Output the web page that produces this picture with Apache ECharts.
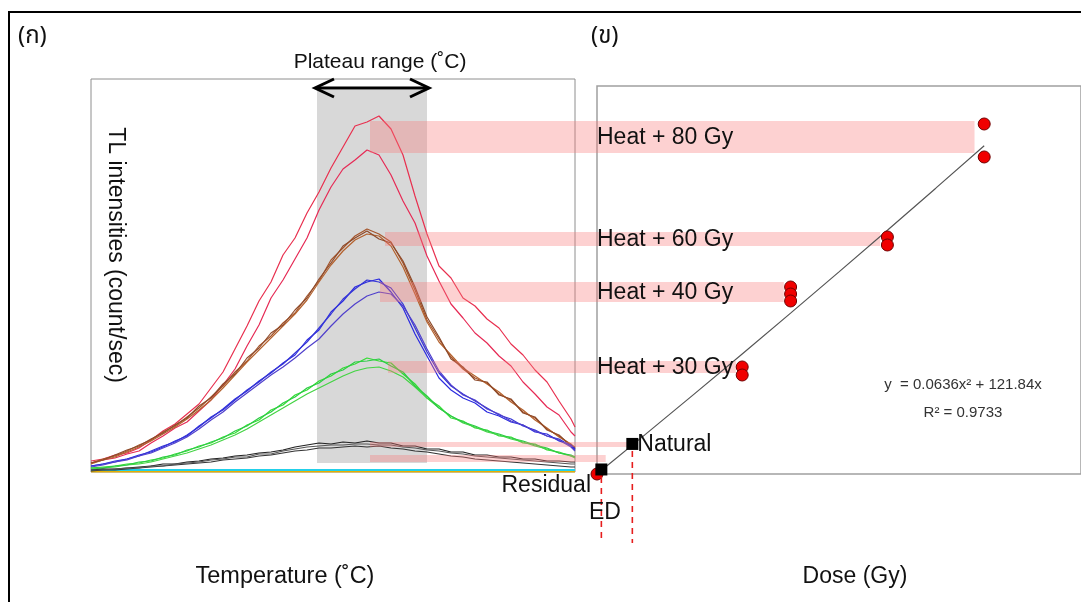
<!DOCTYPE html>
<html><head><meta charset="utf-8">
<script src="https://cdn.jsdelivr.net/npm/echarts@6/dist/echarts.min.js"></script>
<style>html,body{margin:0;padding:0;background:#fff}#c{width:1081px;height:602px}</style>
</head><body><div id="c"></div>
<script>
// ---------- Panel (ก): TL glow curves (temperature channel vs intensity) ----------
const temperature = [0,12,24,36,48,60,72,84,96,108,120,132,144,156,168,180,192,204,216,228,240,252,264,276,288,300,312,324,336,348,360,372,384,396,408,420,432,444,456,468,480,484];
const red80a  = [11,13,17,19,24,32,41,48,58,68,84,100,123,146,171,190,217,234,259,280,304,325,346,350,356,343,317,276,238,206,194,174,166,153,144,128,117,102,90,71,53,45];
const red80b  = [9,12,14,18,21,29,36,44,50,61,72,87,103,126,147,174,192,213,234,262,285,303,312,322,317,297,271,249,216,191,168,154,139,129,116,106,90,78,65,57,40,36];
const brown60a = [9,13,16,21,27,32,40,46,55,64,75,86,100,111,126,136,149,159,176,191,212,224,236,243,238,230,209,182,152,133,115,103,94,89,78,72,60,54,43,36,27,25];
const brown60b = [8,12,15,20,25,31,38,45,53,62,72,84,97,110,122,134,146,158,172,190,207,221,232,238,236,226,205,178,150,130,117,104,96,88,80,70,62,52,44,35,28,24];
const brown60c = [9,12,17,22,26,33,39,47,54,66,74,88,98,114,124,139,147,162,174,193,209,226,234,241,233,229,211,185,155,135,113,105,92,90,77,73,59,55,42,37,26,23];
const blue40a = [6,8,10,13,17,20,25,31,36,46,54,63,73,81,91,99,109,117,132,142,160,171,185,190,193,180,164,138,116,94,82,74,69,60,56,50,47,40,38,31,27,23];
const blue40b = [6,8,11,13,16,21,26,30,37,45,55,62,72,82,90,100,108,119,130,144,158,173,183,192,190,184,168,144,120,99,86,78,71,64,57,53,46,42,36,33,26,22];
const blue40c = [5,7,10,12,16,19,24,29,35,43,52,60,70,79,88,97,105,114,124,133,146,158,168,176,180,178,166,147,123,101,87,77,72,63,58,51,47,41,36,32,25,21];
const green30a = [4,5,6,8,9,12,14,18,21,26,29,35,39,47,52,62,67,77,82,91,96,104,108,114,111,109,98,88,74,66,54,51,44,42,36,35,29,28,22,20,16,15];
const green30b = [3,4,5,7,8,10,13,16,19,23,27,32,37,43,50,57,64,71,78,84,90,96,101,104,105,101,95,85,74,64,56,49,45,40,37,33,30,26,23,19,16,14];
const green30c = [4,4,6,7,10,11,15,17,22,25,30,34,41,46,54,60,69,75,84,89,98,102,110,111,113,106,100,86,76,64,56,50,46,41,38,34,31,27,24,19,17,15];
const naturalA = [2,3,3,4,5,6,8,8,10,11,13,14,16,17,19,20,22,25,27,29,28,30,29,31,29,29,26,26,23,23,20,20,17,17,15,15,13,13,11,11,10,10];
const naturalB = [1,2,2,3,4,5,6,7,8,9,10,12,13,14,16,17,19,21,22,24,24,25,26,25,26,24,23,21,20,18,16,15,13,12,11,10,9,8,7,6,5,5];
const naturalC = [2,2,3,4,4,6,6,8,9,10,12,13,15,15,18,18,21,23,25,26,27,27,28,28,27,27,25,24,22,21,19,18,16,15,14,13,12,11,10,9,8,8];
const baseTemps = [0, 484];
const residualCyan = [2, 2];
const residualYellow = [0.3, 0.3];
const plateauT = [226, 336];
const plateauH = [9, 382];

// ---------- Panel (ข): dose response ----------
const pointDose   = [80, 80, 60, 60, 40, 40, 40, 30, 30, 0];
const pointSignal = [10825, 9805, 7330, 7083, 5784, 5567, 5351, 3310, 3062, 0];
const squareDose   = [0.9, 7.3];
const squareSignal = [140, 930];
const fitDose   = [1, 10, 20, 30, 40, 50, 60, 70, 80];
const fitSignal = [122, 1225, 2462, 3712, 4975, 6251, 7539, 8840, 10154];

// bands linking the glow curves to the dose points
const bandLabels  = ['Heat + 80 Gy', 'Heat + 60 Gy', 'Heat + 40 Gy', 'Heat + 30 Gy', 'Natural', 'Residual'];
const bandStartT  = [279, 294, 289, 297, 279, 279];
const bandEndDose = [78.0, 58.5, 38.6, 28.7, 6.2, 1.8];
const bandLow     = [9929, 7052, 5320, 3124, 835, 371];
const bandHigh    = [10918, 7485, 5939, 3495, 990, 588];

const FONT = '"Liberation Sans", Arial, "DejaVu Sans", sans-serif';
const THAI = '"Noto Sans Thai", "Loma", "Garuda", "Norasi", "DejaVu Sans", "Liberation Sans", sans-serif';

const pair = (xs, ys) => xs.map((x, i) => [x, ys[i]]);
const curveDefs = [
  [red80a, '#e8304f'], [red80b, '#e62a55'],
  [brown60a, '#a5552b'], [brown60b, '#b4622e'], [brown60c, '#8e4a2a'],
  [blue40a, '#2a2ae0'], [blue40b, '#3535d6'], [blue40c, '#5040cc'],
  [green30a, '#33dd33'], [green30b, '#44d444'], [green30c, '#2ccc44'],
  [naturalA, '#222222'], [naturalB, '#333333'], [naturalC, '#555555']
];

const series = [];
series.push({
  type: 'line', xAxisIndex: 0, yAxisIndex: 0, z: 1, symbol: 'none', silent: true,
  data: pair(baseTemps, residualYellow), lineStyle: {color: '#e6b000', width: 1.5},
  markArea: {silent: true, itemStyle: {color: 'rgba(190,190,190,0.6)'},
    data: [[{coord: [plateauT[0], plateauH[0]]}, {coord: [plateauT[1], plateauH[1]]}]]}
});
series.push({
  type: 'line', xAxisIndex: 0, yAxisIndex: 0, z: 2, symbol: 'none', silent: true,
  data: pair(baseTemps, residualCyan), lineStyle: {color: '#22d0ea', width: 2.2}
});
curveDefs.forEach(([vals, col]) => series.push({
  type: 'line', xAxisIndex: 0, yAxisIndex: 0, z: 2, symbol: 'none', silent: true,
  data: pair(temperature, vals), lineStyle: {color: col, width: 1.2}
}));
series.push({
  type: 'line', xAxisIndex: 1, yAxisIndex: 1, z: 4, symbol: 'none', silent: true,
  data: pair(fitDose, fitSignal), lineStyle: {color: '#555', width: 1.2}
});
series.push({
  type: 'scatter', xAxisIndex: 1, yAxisIndex: 1, z: 5, clip: false, symbolSize: 12, silent: true,
  data: pair(pointDose, pointSignal),
  itemStyle: {color: '#f00000', borderColor: '#700000', borderWidth: 1, opacity: 1}
});
series.push({
  type: 'scatter', xAxisIndex: 1, yAxisIndex: 1, z: 6, clip: false, symbol: 'rect', symbolSize: 12, silent: true,
  data: pair(squareDose, squareSignal), itemStyle: {color: '#000', opacity: 1}
});

const option = {
  animation: false,
  backgroundColor: '#fff',
  grid: [
    {left: 91, top: 79, width: 484, height: 393, show: true, borderColor: '#8e8e8e', borderWidth: 1},
    {left: 597, top: 86, width: 486, height: 388, show: true, borderColor: '#a0a0a0', borderWidth: 1.5}
  ],
  xAxis: [
    {gridIndex: 0, type: 'value', min: 0, max: 484, show: false},
    {gridIndex: 1, type: 'value', min: 0, max: 100, show: false}
  ],
  yAxis: [
    {gridIndex: 0, type: 'value', min: 0, max: 393, show: false},
    {gridIndex: 1, type: 'value', min: 0, max: 12000, show: false}
  ],
  series
};

const chart = echarts.init(document.getElementById('c'));
chart.setOption(option);

const L = (t, h) => chart.convertToPixel({gridIndex: 0}, [t, h]);
const R = (d, s) => chart.convertToPixel({gridIndex: 1}, [d, s]);
const txt = (text, x, y, size, opts) => Object.assign({
  type: 'text', z: 20, x, y,
  style: Object.assign({text, fill: '#111', font: size + 'px ' + FONT, align: 'left', verticalAlign: 'middle'}, (opts && opts.style) || {})
}, opts ? {rotation: opts.rotation || 0} : {});

const g = [];
// outer frame
g.push({type: 'polyline', z: 20, shape: {points: [[9, 602], [9, 12], [1081, 12]]}, style: {stroke: '#000', lineWidth: 2, fill: null}});
// pink bands
bandLabels.forEach((lab, i) => {
  const x0 = L(bandStartT[i], 0)[0];
  const x1 = R(bandEndDose[i], 0)[0];
  const y0 = R(0, bandHigh[i])[1];
  const y1 = R(0, bandLow[i])[1];
  g.push({type: 'rect', z: 3, shape: {x: x0, y: y0, width: x1 - x0, height: y1 - y0}, style: {fill: 'rgba(248,120,120,0.34)'}});
  if (i < 4) {
    g.push(txt(lab, R(0, 0)[0], (y0 + y1) / 2 + 1, 23));
  }
});
// plateau arrow
const ax0 = L(plateauT[0], 0)[0] - 2, ax1 = L(plateauT[1], 0)[0] + 2, ay = 88;
g.push({type: 'line', z: 20, shape: {x1: ax0 + 2, y1: ay, x2: ax1 - 2, y2: ay}, style: {stroke: '#000', lineWidth: 3}});
g.push({type: 'polyline', z: 20, shape: {points: [[ax0 + 19, ay - 9], [ax0, ay], [ax0 + 19, ay + 9]]}, style: {stroke: '#000', lineWidth: 3, fill: null}});
g.push({type: 'polyline', z: 20, shape: {points: [[ax1 - 19, ay - 9], [ax1, ay], [ax1 - 19, ay + 9]]}, style: {stroke: '#000', lineWidth: 3, fill: null}});
// red dashed ED lines
const rx = R(squareDose[0], 0)[0], nx = R(squareDose[1], 0)[0];
g.push({type: 'line', z: 20, shape: {x1: rx, y1: 477, x2: rx, y2: 541}, style: {stroke: '#e61e1e', lineWidth: 1.6, lineDash: [6, 5]}});
g.push({type: 'line', z: 20, shape: {x1: nx, y1: 451, x2: nx, y2: 543}, style: {stroke: '#e61e1e', lineWidth: 1.6, lineDash: [6, 5]}});
// texts
g.push({type: 'text', z: 20, x: 18, y: 38, style: {text: '(ก)', fill: '#111', font: '24px ' + THAI, verticalAlign: 'middle'}});
g.push({type: 'text', z: 20, x: 591, y: 38, style: {text: '(ข)', fill: '#111', font: '24px ' + THAI, verticalAlign: 'middle'}});
g.push(txt('Plateau range (˚C)', 380, 62, 21, {style: {align: 'center'}}));
g.push({type: 'text', z: 20, x: 115, y: 255, rotation: -Math.PI / 2,
  style: {text: 'TL intensities (count/sec)', fill: '#111', font: '23px ' + FONT, align: 'center', verticalAlign: 'middle'}});
g.push(txt('Temperature (˚C)', 285, 577, 23.5, {style: {align: 'center'}}));
g.push(txt('Dose (Gy)', 855, 577, 23, {style: {align: 'center'}}));
const np = R(squareDose[1], squareSignal[1]);
g.push(txt('Natural', np[0] + 5, np[1] + 1, 23));
g.push(txt('Residual', 591, 486, 23, {style: {align: 'right'}}));
g.push(txt('ED', 605, 513, 23, {style: {align: 'center'}}));
g.push(txt('y  = 0.0636x² + 121.84x', 963, 385, 15, {style: {align: 'center', fill: '#333'}}));
g.push(txt('R² = 0.9733', 963, 413, 15, {style: {align: 'center', fill: '#333'}}));

chart.setOption({graphic: {elements: g}});
</script>
</body></html>
